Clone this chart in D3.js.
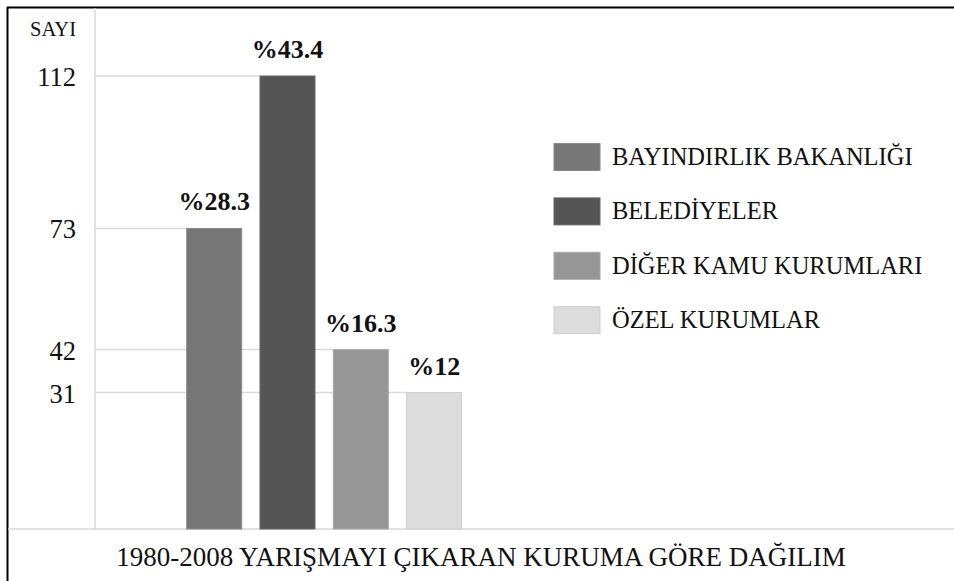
<!DOCTYPE html>
<html>
<head>
<meta charset="utf-8">
<script src="https://cdn.jsdelivr.net/npm/d3@7"></script>
<style>
  body { margin: 0; background: #fff; }
  text { font-family: "Liberation Serif", "Times New Roman", Times, serif; }
</style>
</head>
<body>
<div id="viz-wrapper"></div>
<script>
var width = 954;
var height = 581;
var serif = '"Liberation Serif", "Times New Roman", Times, serif';

// the data
var categories = ['BAYINDIRLIK BAKANLIĞI', 'BELEDİYELER', 'DİĞER KAMU KURUMLARI', 'ÖZEL KURUMLAR'];
var values = [73, 112, 42, 31];
var percents = ['%28.3', '%43.4', '%16.3', '%12'];
var yTicks = [31, 42, 73, 112];
var colors = ['#777777', '#555555', '#969696', '#dcdcdc'];
var strokes = ['#8a8a8a', '#666666', '#a8a8a8', '#cfcfcf'];

var axisX = 95;      // vertical axis
var baseY = 529;     // horizontal baseline
var topY = 76;

var svg = d3.select('#viz-wrapper').append('svg')
  .attr('width', width).attr('height', height)
  .attr('font-family', serif);

// frame (top and left)
svg.append('line').attr('x1', 7).attr('x2', width).attr('y1', 7.5).attr('y2', 7.5)
  .attr('stroke', '#000').attr('stroke-width', 2);
svg.append('line').attr('x1', 7.5).attr('x2', 7.5).attr('y1', 7).attr('y2', height)
  .attr('stroke', '#000').attr('stroke-width', 2);

var x = d3.scaleBand().domain(categories).range([150, 498.3])
  .paddingInner(0.25).paddingOuter(0.5);

// baseline sits a little below zero in the original
var y = d3.scaleLinear().domain([-3.9, 112]).range([baseY, topY]);

// guide lines from the axis to each bar
svg.selectAll('.guide').data(values).enter().append('line')
  .attr('class', 'guide')
  .attr('x1', axisX).attr('x2', function(d, i) { return x(categories[i]); })
  .attr('y1', function(d) { return y(d); }).attr('y2', function(d) { return y(d); })
  .attr('stroke', '#d9d9d9').attr('stroke-width', 1.5);

// axis lines
svg.append('line').attr('x1', axisX).attr('x2', axisX).attr('y1', 8).attr('y2', baseY)
  .attr('stroke', '#d9d9d9').attr('stroke-width', 1.5);
svg.append('line').attr('x1', 8).attr('x2', width).attr('y1', baseY).attr('y2', baseY)
  .attr('stroke', '#d9d9d9').attr('stroke-width', 1.5);

// bars
svg.selectAll('.bar').data(values).enter().append('rect')
  .attr('class', 'bar')
  .attr('x', function(d, i) { return x(categories[i]); })
  .attr('width', x.bandwidth())
  .attr('y', function(d) { return y(d); })
  .attr('height', function(d) { return baseY - y(d); })
  .style('fill', function(d, i) { return colors[i]; })
  .style('stroke', function(d, i) { return strokes[i]; })
  .style('stroke-width', 1);

// percent labels
svg.selectAll('.pct').data(values).enter().append('text')
  .attr('class', 'pct')
  .attr('x', function(d, i) { return x(categories[i]) + x.bandwidth() / 2; })
  .attr('y', function(d) { return y(d) - 18; })
  .attr('text-anchor', 'middle')
  .style('font-family', serif)
  .style('font-weight', 'bold').style('font-size', '26px').style('fill', '#111')
  .text(function(d, i) { return percents[i]; });

// y tick labels
var yAxis = d3.axisLeft(y).tickValues(yTicks).tickSize(0).tickPadding(0);
var gAxis = svg.append('g').attr('transform', 'translate(76,0)').call(yAxis);
gAxis.select('.domain').remove();
gAxis.selectAll('text')
  .attr('dy', '0.36em')
  .style('font-family', serif)
  .style('font-size', '26.5px').style('fill', '#111');

svg.append('text').attr('x', 76).attr('y', 36).attr('text-anchor', 'end')
  .style('font-family', serif)
  .style('font-size', '20.5px').style('fill', '#111').text('SAYI');

// legend
var legend = svg.selectAll('.legend').data(categories).enter().append('g')
  .attr('class', 'legend')
  .attr('transform', function(d, i) { return 'translate(554,' + (143.5 + i * 54.4) + ')'; });
legend.append('rect').attr('width', 46).attr('height', 27)
  .style('fill', function(d, i) { return colors[i]; })
  .style('stroke', function(d, i) { return strokes[i]; }).style('stroke-width', 1);
legend.append('text').attr('x', 58).attr('y', 21.5)
  .style('font-family', serif)
  .style('font-size', '24.5px').style('fill', '#111')
  .text(function(d) { return d; });

// title
svg.append('text').attr('x', 481).attr('y', 566).attr('text-anchor', 'middle')
  .style('font-family', serif)
  .style('font-size', '27px').style('fill', '#111')
  .text('1980-2008 YARIŞMAYI ÇIKARAN KURUMA GÖRE DAĞILIM');
</script>
</body>
</html>
